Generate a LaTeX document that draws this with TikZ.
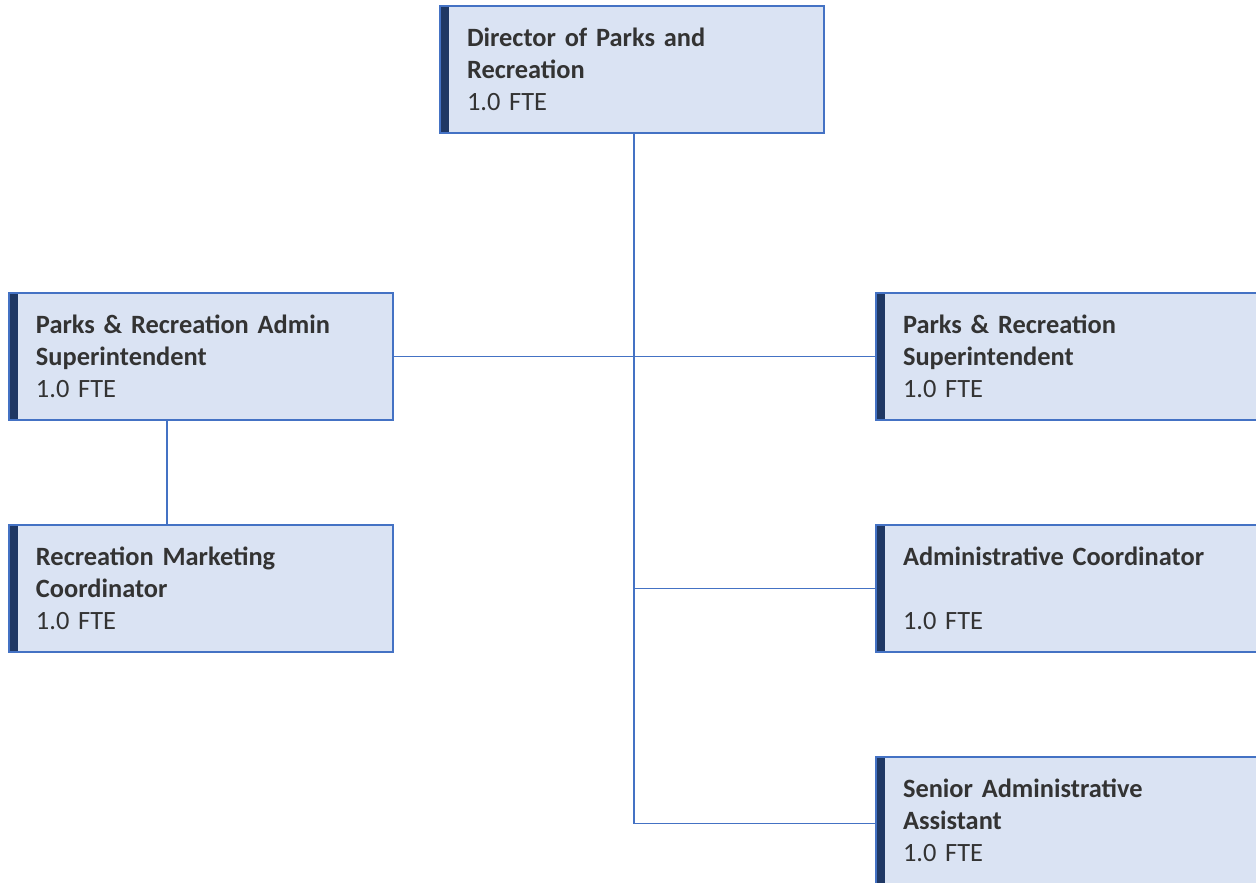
\documentclass[tikz,border=0pt]{standalone}
\usepackage{fontspec}
\setmainfont{Carlito}
\definecolor{boxfill}{HTML}{DAE3F3}
\definecolor{boxline}{HTML}{4472C4}
\definecolor{boxbar}{HTML}{1F3864}
\definecolor{boxtext}{HTML}{333333}
\tikzset{
  post/.style={draw=boxline, line width=1.2pt, fill=boxfill, text=boxtext,
    minimum width=288pt, minimum height=95.25pt, text width=247.5pt,
    inner xsep=20.25pt, inner ysep=0pt, align=left,
    font=\fontsize{19.8}{24}\selectfont,
    path picture={\fill[boxbar] (path picture bounding box.north west)
      rectangle ([xshift=6.75pt]path picture bounding box.south west);}},
  link/.style={draw=boxline, line width=1.3pt}
}
\begin{document}
\begin{tikzpicture}[x=0.75pt,y=-0.75pt]
    \useasboundingbox (0,0) rectangle (1256,882);
    \clip (0,0) rectangle (1256,882);
    %% Director
    \node[post] (director) at (632,69.5) {\textbf{Director of Parks and}\\\textbf{Recreation}\\1.0 FTE};
    \coordinate (trunk) at ([xshift=1.5pt]director.south);
    %% Second level
    \node[post] (adminsup) at (201,356.5) {\textbf{Parks \& Recreation Admin}\\\textbf{Superintendent}\\1.0 FTE};
    \node[post] (parksup) at (1068,356.5) {\textbf{Parks \& Recreation}\\\textbf{Superintendent}\\1.0 FTE};
    \node[post] (marketing) at (201,588.5) {\textbf{Recreation Marketing}\\\textbf{Coordinator}\\1.0 FTE};
    \node[post] (admincoord) at (1068,588.5) {\textbf{Administrative Coordinator}\\~\\1.0 FTE};
    \node[post] (seniorasst) at (1068,820.5) {\textbf{Senior Administrative}\\\textbf{Assistant}\\1.0 FTE};
    \coordinate (corner) at ([yshift=-2.25pt]trunk |- seniorasst.west);
    %% Connectors
    \draw[link] (trunk) -- (corner) -- (corner -| seniorasst.west);
    \draw[link] (adminsup.east) -- (parksup.west);
    \draw[link] (trunk |- admincoord.west) -- (admincoord.west);
    \draw[link] ([xshift=-25.5pt]adminsup.south) -- ([xshift=-25.5pt]marketing.north);
\end{tikzpicture}
\end{document}
